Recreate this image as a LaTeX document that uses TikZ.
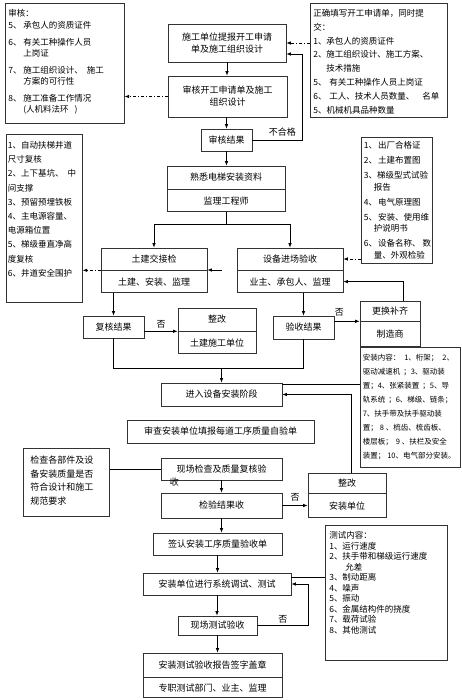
\documentclass[tikz,border=0pt]{standalone}
\usepackage{fontspec}
\newfontfamily\cjk{Noto Sans CJK SC}
\usetikzlibrary{arrows.meta,calc}
\tikzstyle{box}=[draw=black!80, line width=0.6pt, align=center, inner sep=1pt, font=\cjk\fontsize{9}{12}\selectfont]
\tikzstyle{listbox}=[draw=black!80, line width=0.6pt, anchor=north west, align=left, inner xsep=3pt, inner ysep=3pt, font=\cjk\fontsize{8.5}{14}\selectfont]
\tikzstyle{arr}=[-{Latex[length=4.5pt,width=3.5pt]}, line width=0.8pt]
\tikzstyle{ddarr}=[arr, dash pattern=on 3pt off 2pt on 1pt off 2pt]
\tikzstyle{conn}=[line width=0.8pt]
\tikzstyle{tag}=[font=\cjk\fontsize{9}{11}\selectfont, inner sep=1pt]
\newcommand{\flow}{\node[box]}
\newcommand{\nr}[2][15pt]{\makebox[#1][l]{#2}}
\newcommand{\indt}[1][15pt]{\hspace*{#1}}

\begin{document}
\begin{tikzpicture}[x=1pt,y=-1pt]
\useasboundingbox (0,0) rectangle (461,700);

\node[listbox, text width=113pt, text height=10.3pt, text depth=103.7pt, font=\cjk\fontsize{8.5}{11}\selectfont] (shenhe) at (5,3) {审核：\\[1pt]
\nr{5、}承包人的资质证件\\[6pt]
\nr{6、}有关工种操作人员\\
\indt 上岗证\\[6pt]
\nr{7、}施工组织设计、\kern4pt 施工\\
\indt 方案的可行性\\[6pt]
\nr{8、}施工准备工作情况\\
\indt (人机料法环\kern6pt)};

\node[listbox, text width=131pt, text height=10.3pt, text depth=97.7pt, font=\cjk\fontsize{8.5}{13.8}\selectfont] (zhengque) at (310,3) {正确填写开工申请单，同时提\\
交：\\
\nr[13pt]{1、}承包人的资质证件\\
\nr[13pt]{2、}施工组织设计、施工方案、\\
\indt[13pt]技术措施\\
\nr[16pt]{5、}有关工种操作人员上岗证\\
\nr[16pt]{6、}工人、技术人员数量、\kern8pt 名单\\
5、机械机具品种数量};

\flow[minimum width=118pt, minimum height=38pt] (tibao) at (227,43) {施工单位提报开工申请\\单及施工组织设计};
\flow[minimum width=119pt, minimum height=41pt] (shenheSQ) at (227.5,96.5) {审核开工申请单及施工\\组织设计};
\flow[minimum width=51pt, minimum height=22pt] (jieguo) at (226.5,140) {审核结果};
\flow[minimum width=118pt, minimum height=23pt] (shuxiA) at (226,177.5) {熟悉电梯安装资料};
\flow[minimum width=118pt, minimum height=22pt, anchor=north] (shuxiB) at (shuxiA.south) {监理工程师};

\node[listbox, inner xsep=1.5pt, text width=73pt, text height=11.3pt, text depth=150.7pt, font=\cjk\fontsize{8.5}{14.2}\selectfont] (jingdao) at (6,134) {1、自动扶梯井道\\
尺寸复核\\
2、上下基坑、\kern4pt 中\\
间支撑\\
3、预留预埋铁板\\
4、主电源容量、\\
电源箱位置\\
5、梯级垂直净高\\
度复核\\
6、井道安全围护};

\node[listbox, inner xsep=2.5pt, text width=66pt, text height=8.3pt, text depth=111.7pt, font=\cjk\fontsize{8.5}{11.5}\selectfont] (chuchang) at (361,137) {1、\kern1pt 出厂合格证\\[3.5pt]
2、\kern1pt 土建布置图\\[3.5pt]
3、梯级型式试验\\
\indt[10pt]报告\\[3.5pt]
4、\kern1pt 电气原理图\\[3.5pt]
5、\kern1pt 安装、使用维\\
\indt[10pt]护说明书\\[3.5pt]
6、\kern1pt 设备名称、\kern2pt 数\\
\indt[10pt]量、外观检验};

\flow[minimum width=106pt, minimum height=22pt] (tujianA) at (154,259) {土建交接检};
\flow[minimum width=106pt, minimum height=22pt, anchor=north] (tujianB) at (tujianA.south) {土建、安装、监理};
\flow[minimum width=106pt, minimum height=22pt] (shebeiA) at (290,259) {设备进场验收};
\flow[minimum width=106pt, minimum height=22pt, anchor=north] (shebeiB) at (shebeiA.south) {业主、承包人、监理};

\flow[minimum width=61pt, minimum height=22pt] (fuhe) at (113.5,327) {复核结果};
\flow[minimum width=78pt, minimum height=23pt] (zg1A) at (217,319.5) {整改};
\flow[minimum width=78pt, minimum height=22pt, anchor=north] (zg1B) at (zg1A.south) {土建施工单位};
\flow[minimum width=61pt, minimum height=23pt] (yanshou) at (303.5,327.5) {验收结果};
\flow[minimum width=60pt, minimum height=20pt] (genghuanA) at (390,311) {更换补齐};
\flow[minimum width=60pt, minimum height=25pt, anchor=north] (genghuanB) at (genghuanA.south) {制造商};

\node[listbox, inner xsep=2.5pt, text width=95pt, text height=10.3pt, text depth=103.7pt, font=\cjk\fontsize{7.5}{14}\selectfont] (anzhuang) at (360,347) {安装内容：\kern4pt 1、桁架；\kern4pt 2、\\
驱动减速机\kern3pt ；3、驱动装\\
置；4、张紧装置\kern3pt ；5、导\\
轨系统\kern3pt ；6、梯级、链条；\\
7、扶手带及扶手驱动装\\
置；\kern2pt 8\kern2pt 、梳齿、梳齿板、\\
楼层板；\kern3pt 9\kern2pt 、扶栏及安全\\
装置；\kern2pt 10、电气部分安装。};

\flow[minimum width=121pt, minimum height=23pt] (jinru) at (221.5,394.5) {进入设备安装阶段};
\flow[minimum width=187pt, minimum height=23pt] (shencha) at (220.5,431.5) {审查安装单位填报每道工序质量自验单};

\node[listbox, inner xsep=7pt, text width=72pt, text height=12.3pt, text depth=49.7pt, font=\cjk\fontsize{9}{13.5}\selectfont] (jiancha) at (23,448) {检查各部件及设\\
备安装质量是否\\
符合设计和施工\\
规范要求};

\flow[minimum width=121pt, minimum height=22pt, label={[tag, anchor=north west, inner sep=0pt, xshift=9pt, yshift=3pt]south west:收}] (xianchang) at (221.5,469) {现场检查及质量复核验};
\flow[minimum width=121pt, minimum height=25pt] (jianyan) at (221.5,505.5) {检验结果收};
\flow[minimum width=78pt, minimum height=20pt] (zg2A) at (347,483) {整改};
\flow[minimum width=78pt, minimum height=24pt, anchor=north] (zg2B) at (zg2A.south) {安装单位};

\flow[minimum width=129pt, minimum height=22pt] (qianren) at (217.5,544) {签认安装工序质量验收单};
\flow[minimum width=148pt, minimum height=22pt] (tiaoshi) at (217,584) {安装单位进行系统调试、测试};
\flow[minimum width=79pt, minimum height=19pt] (xcs) at (217.5,625.5) {现场测试验收};
\flow[minimum width=139pt, minimum height=24pt] (baogaoA) at (212.5,665) {安装测试验收报告签字盖章};
\flow[minimum width=139pt, minimum height=20pt, anchor=north] (baogaoB) at (baogaoA.south) {专职测试部门、业主、监理};

\node[listbox, inner xsep=4pt, text width=114pt, text height=10.3pt, text depth=118.7pt, font=\cjk\fontsize{8.5}{10.5}\selectfont] (ceshi) at (325,525) {测试内容：\\
\nr[13pt]{1、}运行速度\\
\nr[13pt]{2、}扶手带和梯级运行速度\\
\indt[16pt]允差\\
\nr[13pt]{3、}制动距离\\
\nr[13pt]{4、}噪声\\
\nr[13pt]{5、}振动\\
\nr[13pt]{6、}金属结构件的挠度\\
\nr[13pt]{7、}载荷试验\\
\nr[13pt]{8、}其他测试};

\draw[ddarr] (zhengque.west |- tibao.east) -- (tibao.east);
\draw[ddarr] (shenheSQ.west) -- (shenheSQ.west -| shenhe.east);
\draw[arr] (tibao.south) -- (tibao.south |- shenheSQ.north);
\draw[arr] (jieguo.north |- shenheSQ.south) -- (jieguo.north);
\draw[arr] (jieguo.east) -| node[tag, pos=0.3, above=2pt]{不合格} ([xshift=16pt,yshift=-11pt]tibao.east) -- ([yshift=-11pt]tibao.east);
\draw[arr] (jieguo.south) -- (jieguo.south |- shuxiA.north);
\draw[arr] (shuxiB.south) -- ++(0,13) -| (tujianA.north);
\draw[arr] (shuxiB.south) ++(0,13) -| (shebeiA.north);
\coordinate (stub) at (222,270);
\draw[arr] (stub) -- (stub -| tujianA.east);
\draw[ddarr] (tujianA.south west) -- (tujianA.south west -| jingdao.east);
\draw[ddarr] (chuchang.west |- shebeiA.east) -- (shebeiA.east);
\draw[arr] ([xshift=13pt]genghuanA.north) |- (shebeiB.east);
\draw[arr] (fuhe.north |- tujianB.south) -- (fuhe.north);
\draw[arr] (yanshou.north |- shebeiB.south) -- (yanshou.north);
\draw[arr] (fuhe.east |- zg1A.south) -- node[tag, above=2pt]{否} (zg1A.south west);
\draw[arr] (yanshou.east |- genghuanA.south) -- node[tag, pos=0.2, above=4pt]{否} (genghuanA.south west);
\coordinate (merge) at ($(fuhe.south)+(0,30)$);
\draw[conn] (fuhe.south) -- (merge) -| (yanshou.south);
\draw[arr] (merge -| jinru.north) -- (jinru.north);
\coordinate (jinruR) at ([yshift=-2pt]jinru.north east);
\draw[conn] (jinruR) -- (jinruR -| anzhuang.west);
\draw[arr] ([xshift=4pt]zg2A.north) |- (jinru.east);
\draw[conn] (jiancha.east |- xianchang.west) -- (xianchang.west);
\draw[arr] (xianchang.south) -- (xianchang.south |- jianyan.north);
\draw[arr] (jianyan.east) -- node[tag, above=3pt]{否} (jianyan.east -| zg2B.west);
\draw[arr] (jianyan.south) -- (jianyan.south |- qianren.north);
\draw[arr] (qianren.south) -- (qianren.south |- tiaoshi.north);
\coordinate (tiaoshiR) at ([yshift=7pt]tiaoshi.east);
\draw[conn] (tiaoshiR) -- (tiaoshiR -| ceshi.west);
\draw[arr] (xcs.east) -| node[tag, pos=0.25, above=1pt]{否} ([xshift=17pt]tiaoshi.east) -- (tiaoshi.east);
\draw[arr] (tiaoshi.south) -- (tiaoshi.south |- xcs.north);
\draw[arr] (xcs.south) -- (xcs.south |- baogaoA.north);
\end{tikzpicture}
\end{document}
